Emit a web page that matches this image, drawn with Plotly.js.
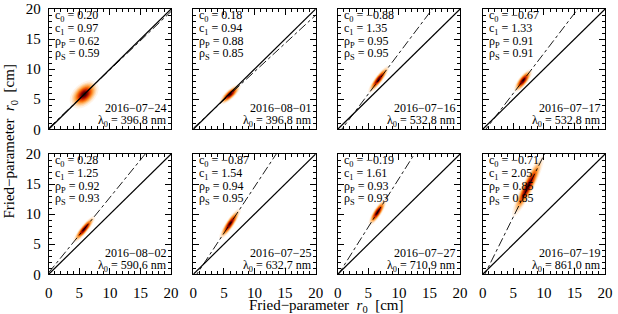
<!DOCTYPE html>
<html><head><meta charset="utf-8">
<script src="https://cdn.plot.ly/plotly-3.0.1.min.js"></script>
<style>
html,body{margin:0;padding:0;background:#fff;}
</style>
</head><body>
<div id="chart" style="width:618px;height:314px;"></div>
<script>
// ---- data ----
const dates = ["2016−07−24","2016−08−01","2016−07−16","2016−07−17","2016−08−02","2016−07−25","2016−07−27","2016−07−19"];
const wavelengths = ["396.8","396.8","532.8","532.8","590.6","632.7","710.9","861.0"];
const c0 = [0.20, 0.18, -0.88, -0.67, 0.28, -0.87, -0.19, -0.71];
const c1 = [0.97, 0.94, 1.35, 1.33, 1.25, 1.54, 1.61, 2.05];
const rhoP = ["0.62","0.88","0.95","0.91","0.92","0.94","0.93","0.85"];
const rhoS = ["0.59","0.85","0.95","0.91","0.93","0.95","0.93","0.85"];
// density cloud: centre and spread (along fit line / across) in cm
const blobX = [5.8, 6.0, 6.7, 6.6, 5.8, 6.0, 6.5, 7.4];
const blobY = [5.8, 5.8, 8.3, 8.1, 7.5, 8.4, 10.3, 14.6];
const blobAlong = [1.1, 0.9, 1.1, 0.9, 1.1, 1.2, 1.0, 2.2];
const blobAcross = [0.7, 0.3, 0.25, 0.3, 0.25, 0.27, 0.27, 0.38];
const tickVals = [0, 5, 10, 15, 20];

// ---- layout geometry ----
const W = 618, H = 314;
const colL = [48.7, 193.3, 337.7, 482.7], pw = 122.4;
const rowT = [9, 154], ph = 120.3;
const FAM = "Liberation Serif";

const traces = [], annotations = [];
const layout = {
  width: W, height: H, margin: {l:0, r:0, t:0, b:0},
  paper_bgcolor: "#fff", plot_bgcolor: "#fff", showlegend: false,
  font: {family: FAM, size: 14, color: "#000"},
  annotations: annotations
};
const colorscale = [
  [0, "rgba(255,255,255,0)"], [0.06, "rgb(255,238,220)"], [0.2, "rgb(255,190,120)"],
  [0.38, "rgb(252,130,25)"], [0.58, "rgb(225,60,0)"], [0.8, "rgb(150,5,0)"], [1, "rgb(40,0,0)"]
];
const grid = [];
for (let k = 0; k <= 100; k++) grid.push(k * 0.2);

for (let i = 0; i < 8; i++) {
  const r = Math.floor(i / 4), c = i % 4;
  const n = i + 1, xa = "x" + (n === 1 ? "" : n), ya = "y" + (n === 1 ? "" : n);
  const axKey = n === 1 ? "" : n;
  const axBase = {
    range: [0, 20], tickvals: tickVals, ticks: "inside", ticklen: 6, tickwidth: 1,
    tickcolor: "#000", showline: true, linecolor: "#000", linewidth: 1, mirror: "allticks",
    showgrid: false, zeroline: false,
    tickfont: {family: FAM, size: 15},
    minor: {dtick: 1, ticks: "inside", ticklen: 3, tickwidth: 1, tickcolor: "#000", showgrid: false}
  };
  layout["xaxis" + axKey] = Object.assign({}, axBase, {
    domain: [colL[c] / W, (colL[c] + pw) / W], anchor: ya,
    showticklabels: r === 1, ticklabelstandoff: 5
  });
  layout["yaxis" + axKey] = Object.assign({}, axBase, {
    domain: [1 - (rowT[r] + ph) / H, 1 - rowT[r] / H], anchor: xa,
    showticklabels: c === 0, ticklabelstandoff: 4
  });

  // density cloud
  const norm = Math.sqrt(1 + c1[i] * c1[i]);
  const ux = 1 / norm, uy = c1[i] / norm;
  const z = [];
  for (let a = 0; a < grid.length; a++) {
    const row = [];
    for (let b = 0; b < grid.length; b++) {
      const dx = grid[b] - blobX[i], dy = grid[a] - blobY[i];
      const p = (dx * ux + dy * uy) / blobAlong[i];
      const q = (-dx * uy + dy * ux) / blobAcross[i];
      row.push(Math.exp(-0.5 * (p * p + q * q)));
    }
    z.push(row);
  }
  traces.push({type: "contour", x: grid, y: grid, z: z, xaxis: xa, yaxis: ya,
    colorscale: colorscale, zmin: 0, zmax: 1, showscale: false, hoverinfo: "skip",
    autocontour: false, contours: {start: 0.04, end: 0.99, size: 0.05, coloring: "fill", showlines: false},
    line: {width: 0}});

  // 1:1 line
  traces.push({type: "scatter", mode: "lines", x: [0, 20], y: [0, 20], xaxis: xa, yaxis: ya,
    line: {color: "#000", width: 1.2}, hoverinfo: "skip"});
  // linear fit
  traces.push({type: "scatter", mode: "lines", x: [0, 20], y: [c0[i], c0[i] + 20 * c1[i]],
    xaxis: xa, yaxis: ya, line: {color: "#000", width: 0.9, dash: "dashdot"}, hoverinfo: "skip"});

  const xr = xa + " domain", yr = ya + " domain";
  const leftLines = [
    "c<sub>0</sub> = " + c0[i].toFixed(2).replace("-", "−"),
    "c<sub>1</sub> = " + c1[i].toFixed(2),
    "ρ<sub>P</sub> = " + rhoP[i],
    "ρ<sub>S</sub> = " + rhoS[i]
  ];
  leftLines.forEach((t, k) => {
    annotations.push({xref: xr, yref: yr, x: 0, y: 1, xanchor: "left", yanchor: "middle",
      xshift: 4, yshift: -7 - k * 12.8, text: t, showarrow: false,
      font: {family: FAM, size: 12}});
  });
  annotations.push({xref: xr, yref: yr, x: 1, y: 0, xanchor: "right", yanchor: "middle",
    xshift: -2, yshift: 21, text: dates[i], showarrow: false,
    font: {family: FAM, size: 12}});
  annotations.push({xref: xr, yref: yr, x: 1, y: 0, xanchor: "right", yanchor: "middle",
    xshift: -2, yshift: 8, text: "λ<sub>0</sub> = " + wavelengths[i] + " nm", showarrow: false,
    font: {family: FAM, size: 12}});
}

// shared axis titles
annotations.push({xref: "paper", yref: "paper", x: (48.7 + 605) / 2 / W, y: 1 - 306 / H,
  xanchor: "center", yanchor: "middle", showarrow: false,
  text: "Fried−parameter  <i>r</i><sub>0</sub>  [cm]", font: {family: FAM, size: 15}});
annotations.push({xref: "paper", yref: "paper", x: 10 / W, y: 1 - 141.6 / H,
  xanchor: "center", yanchor: "middle", showarrow: false, textangle: -90,
  text: "Fried−parameter  <i>r</i><sub>0</sub>  [cm]", font: {family: FAM, size: 15}});

Plotly.newPlot("chart", traces, layout, {staticPlot: true});
</script>
</body></html>
